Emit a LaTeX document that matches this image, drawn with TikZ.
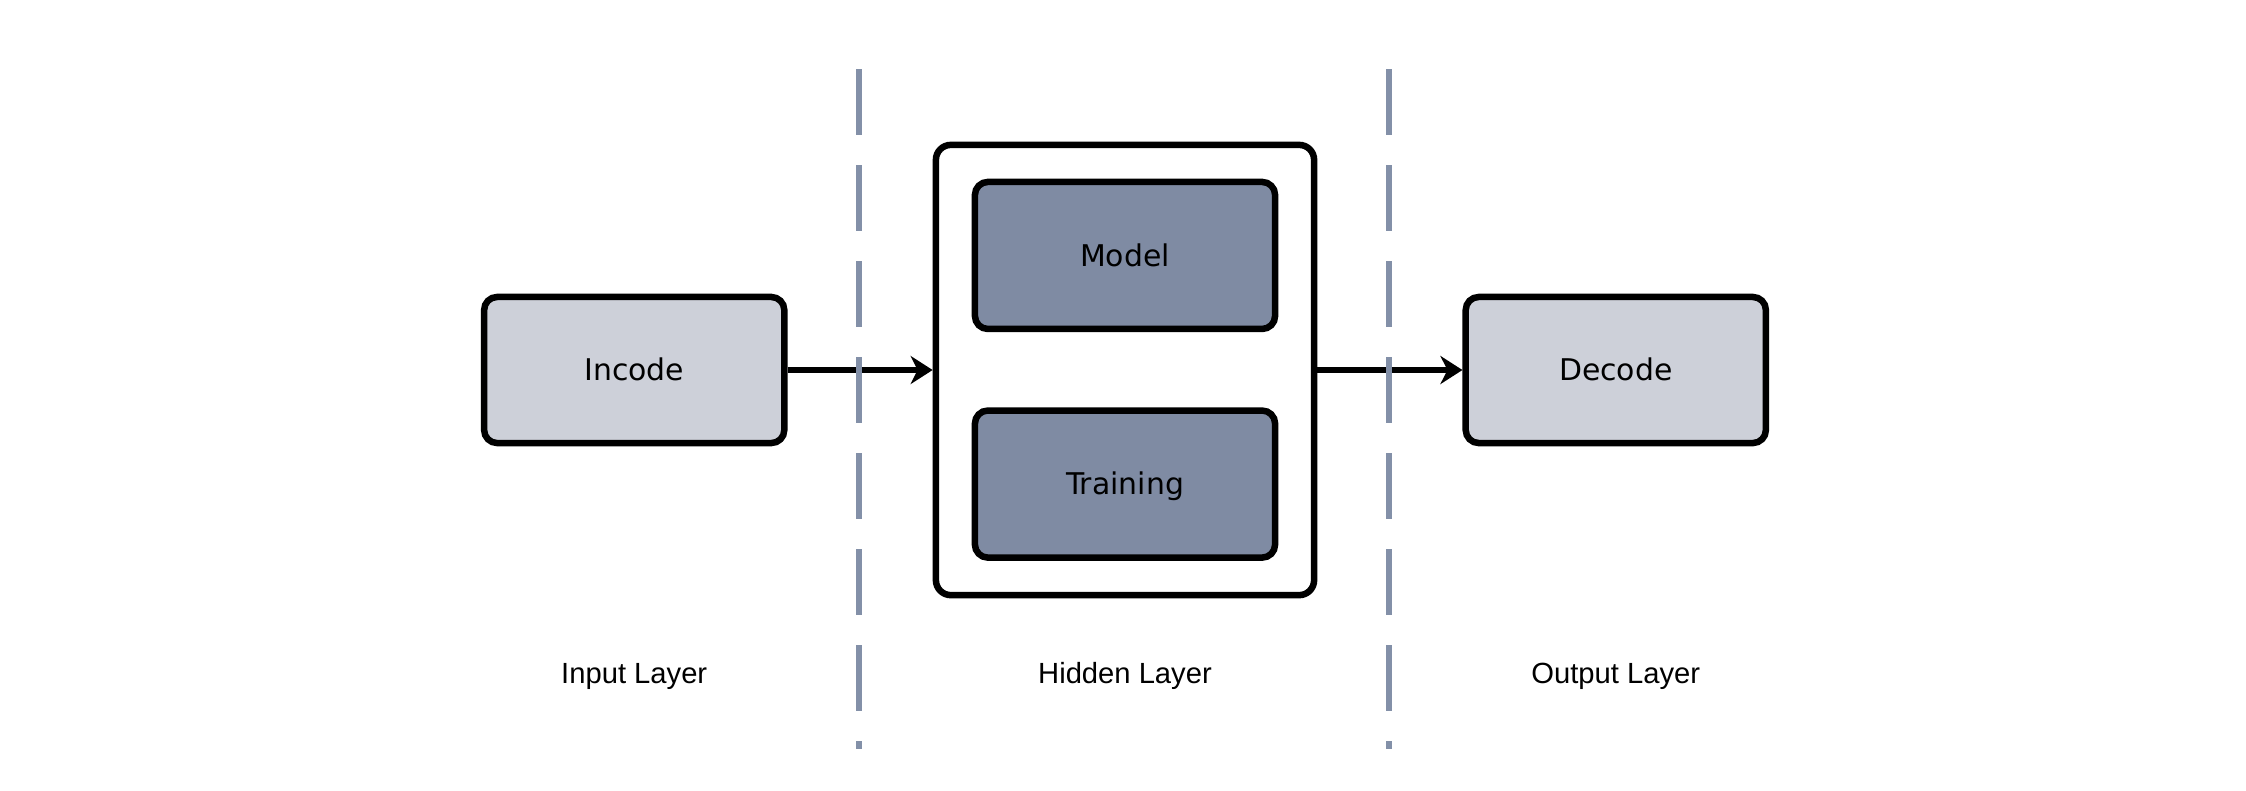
\documentclass[tikz,border=0pt]{standalone}
\usepackage{fontspec}
\setmainfont{DejaVu Sans}
\newfontfamily\layerfont{Liberation Sans}
\usetikzlibrary{positioning, arrows.meta}
\definecolor{paleblue}{RGB}{205,208,217}
\definecolor{slateblue}{RGB}{127,139,163}
\definecolor{sepgray}{RGB}{131,144,168}
\tikzset{
	>={Stealth[length=0.22cm, width=0.28cm, inset=0.07cm]},
	node distance=1.45cm,
	box/.style={draw, line width=0.065cm, rounded corners=0.13cm, inner sep=0pt,
		minimum width=3cm, minimum height=1.46cm,
		font=\fontsize{8.5}{10}\selectfont, text height=6.2pt, text depth=0pt},
	lightbox/.style={box, fill=paleblue},
	darkbox/.style={box, fill=slateblue, minimum height=1.47cm},
	outerbox/.style={box, fill=white, rounded corners=0.15cm, minimum width=3.78cm, minimum height=4.5cm},
	layer/.style={font=\layerfont\fontsize{8.3}{10}\selectfont, anchor=base, inner sep=0pt},
	sepline/.style={sepgray, line width=0.06cm, dash pattern=on 0.66cm off 0.3cm},
	link/.style={->, line width=0.06cm},
}
\begin{document}
\begin{tikzpicture}[x=0.01cm, y=-0.01cm]
	\useasboundingbox (0,0) rectangle (2246,790);
	\node[outerbox] (HIDDEN) at (1125,370) {};
	\node[darkbox, below=0.37cm of HIDDEN.north] (MODEL) {Model};
	\node[darkbox, below=0.75cm of MODEL] (TRAINING) {Training};
	\node[lightbox, left=of HIDDEN] (INCODE) {Incode};
	\node[lightbox, right=of HIDDEN] (DECODE) {Decode};

	\coordinate (base) at (0,683);
	\node[layer] (INLAB) at (INCODE |- base) {Input Layer};
	\node[layer] (HIDLAB) at (HIDDEN |- base) {Hidden Layer};
	\node[layer] (OUTLAB) at (DECODE |- base) {Output Layer};

	\draw[link] (INCODE) -- (HIDDEN);
	\draw[link] (HIDDEN) -- (DECODE);

	% layer separators
	\coordinate (sepAtop) at (859,69);
	\coordinate (sepAbot) at (859,749);
	\coordinate (sepBtop) at (1389,69);
	\coordinate (sepBbot) at (1389,749);
	\draw[sepline] (sepAtop) -- (sepAbot);
	\draw[sepline] (sepBtop) -- (sepBbot);
\end{tikzpicture}
\end{document}
